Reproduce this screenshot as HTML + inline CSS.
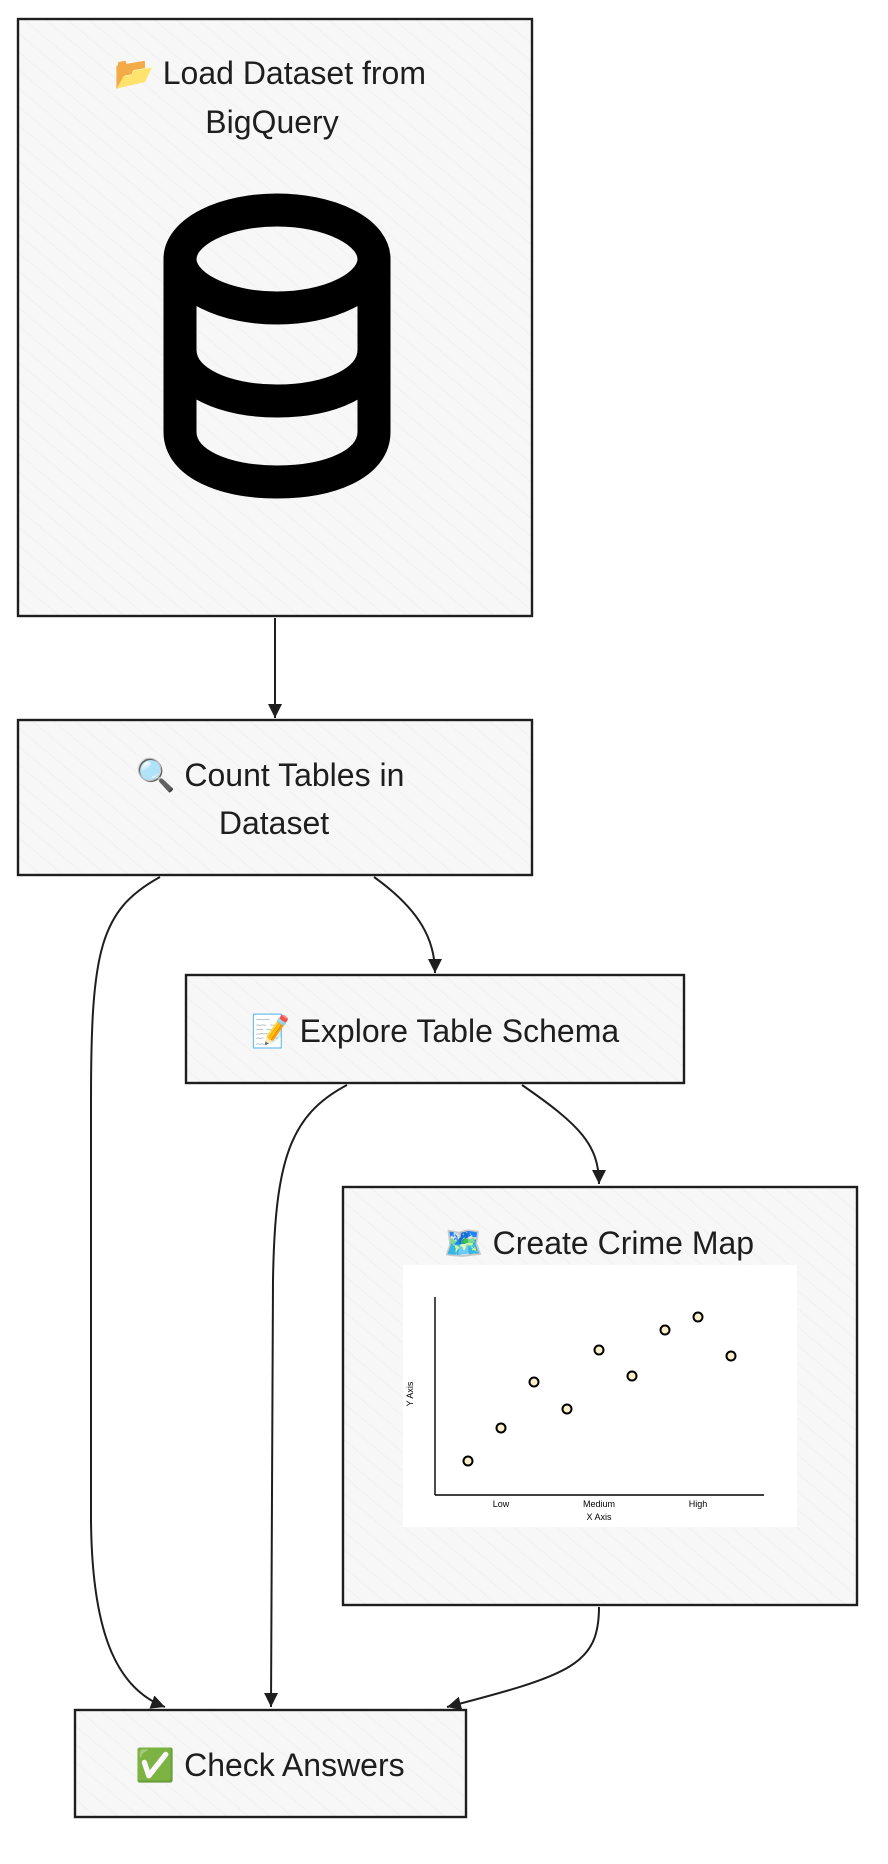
<!DOCTYPE html>
<html><head><meta charset="utf-8"><style>html,body{margin:0;padding:0;background:#fff}svg{display:block}</style></head>
<body>
<svg width="888" height="1864" viewBox="0 0 888 1864" xmlns="http://www.w3.org/2000/svg" font-family="'Liberation Sans','Noto Sans CJK JP',sans-serif">
<defs>
<pattern id="h" width="14" height="14" patternUnits="userSpaceOnUse" patternTransform="rotate(-50)">
<rect width="14" height="14" fill="#f7f7f7"/><line x1="0" y1="0" x2="0" y2="14" stroke="#ececec" stroke-width="1"/>
</pattern>
<marker id="a" markerWidth="14" markerHeight="14" refX="12" refY="6" orient="auto" markerUnits="userSpaceOnUse" viewBox="0 0 12 12"><path d="M0,0 L12,6 L0,12 z" fill="#1e1e1e"/></marker>
</defs>
<g stroke="#1e1e1e" stroke-width="2.4" fill="url(#h)">
<rect x="18" y="19" width="514" height="597"/>
<rect x="18" y="720" width="514" height="155"/>
<rect x="186" y="975" width="498" height="108"/>
<rect x="343" y="1187" width="514" height="418"/>
<rect x="75" y="1710" width="391" height="107"/>
</g>
<g stroke="#1e1e1e" stroke-width="2" fill="none" marker-end="url(#a)">
<path d="M275 618 L275 718"/>
<path d="M160 877 C100 910 91 950 91 1100 L91 1520 C92 1640 120 1690 165 1707"/>
<path d="M374 877 C420 910 435 940 435 973"/>
<path d="M347 1085 C290 1115 275 1160 273 1280 L271 1707"/>
<path d="M522 1085 C580 1125 599 1145 599 1184"/>
<path d="M599 1607 C599 1665 570 1675 447 1707"/>
</g>
<g stroke="#000" stroke-width="33" fill="none">
<ellipse cx="277" cy="259" rx="97" ry="49"/>
<path d="M180 259 L180 350 C180 382 225 401 277 401 C330 401 374 382 374 350 L374 259"/>
<path d="M180 350 L180 432 C180 464 225 482 277 482 C330 482 374 464 374 432 L374 350"/>
</g>
<g font-size="32" fill="#1e1e1e" text-anchor="middle">
<text x="270" y="84">📂 Load Dataset from</text>
<text x="272" y="133">BigQuery</text>
<text x="270" y="786">🔍 Count Tables in</text>
<text x="274" y="834">Dataset</text>
<text x="435" y="1042">📝 Explore Table Schema</text>
<text x="599" y="1254">🗺️ Create Crime Map</text>
<text x="270" y="1776">✅ Check Answers</text>
</g>
<rect x="403" y="1265" width="394" height="262" fill="#fff"/>
<g stroke="#000" stroke-width="1.4"><line x1="435" y1="1297" x2="435" y2="1495"/><line x1="435" y1="1495" x2="764" y2="1495"/></g>
<g fill="#fbefc9" stroke="#000" stroke-width="2">
<circle cx="468" cy="1461" r="4.5"/><circle cx="501" cy="1428" r="4.5"/><circle cx="534" cy="1382" r="4.5"/><circle cx="567" cy="1409" r="4.5"/><circle cx="599" cy="1350" r="4.5"/><circle cx="632" cy="1376" r="4.5"/><circle cx="665" cy="1330" r="4.5"/><circle cx="698" cy="1317" r="4.5"/><circle cx="731" cy="1356" r="4.5"/>
</g>
<g font-size="9" fill="#000" text-anchor="middle">
<text x="501" y="1507">Low</text><text x="599" y="1507">Medium</text><text x="698" y="1507">High</text>
<text x="599" y="1520">X Axis</text>
<text transform="translate(413,1394) rotate(-90)">Y Axis</text>
</g>
</svg>
</body></html>
